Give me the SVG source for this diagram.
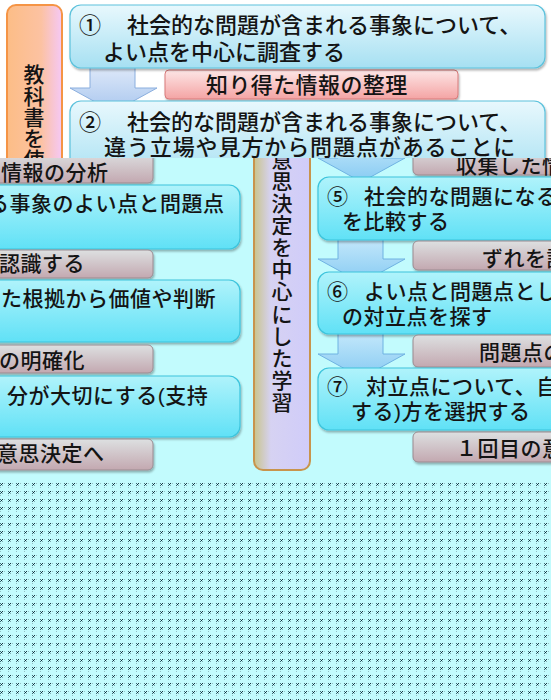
<svg xmlns="http://www.w3.org/2000/svg" width="551" height="700" viewBox="0 0 551 700">
<style>
text{font-family:"Liberation Sans","Noto Sans CJK JP",sans-serif;fill:#141414;font-weight:500}
.t22{font-size:22px}
.t21{font-size:21px;letter-spacing:0.5px}
.box1{fill:url(#gTop);stroke:#5cc2dc;stroke-width:1.2}
.box2{fill:url(#gCy);stroke:#3cc4dc;stroke-width:1.2}
.lab{fill:url(#gGray);stroke:#9a8a90;stroke-width:1}
.arr{fill:url(#gArr);stroke:#6fb2e2;stroke-width:1}
</style>
<defs>
<linearGradient id="gTop" x1="0" y1="0" x2="0" y2="1"><stop offset="0" stop-color="#e8f8fd"/><stop offset="1" stop-color="#a6e0f2"/></linearGradient>
<linearGradient id="gCy" x1="0" y1="0" x2="0" y2="1"><stop offset="0" stop-color="#b0f3fb"/><stop offset="1" stop-color="#60e1f6"/></linearGradient>
<linearGradient id="gGray" x1="0" y1="0" x2="0" y2="1"><stop offset="0" stop-color="#dde0e1"/><stop offset="1" stop-color="#c3a8b0"/></linearGradient>
<linearGradient id="gPink" x1="0" y1="0" x2="0" y2="1"><stop offset="0" stop-color="#fde6e6"/><stop offset="1" stop-color="#f4a4a4"/></linearGradient>
<linearGradient id="gOr" x1="0" y1="0" x2="1" y2="0"><stop offset="0" stop-color="#fcbd86"/><stop offset="0.62" stop-color="#fcc2a2"/><stop offset="1" stop-color="#f5c8f6"/></linearGradient>
<linearGradient id="gPur" x1="0" y1="0" x2="1" y2="0"><stop offset="0" stop-color="#c9c48a"/><stop offset="0.3" stop-color="#d6d2f2"/><stop offset="1" stop-color="#d0ccfa"/></linearGradient>
<linearGradient id="gArrTop" x1="0" y1="0" x2="0" y2="1"><stop offset="0" stop-color="#dfe9f9"/><stop offset="1" stop-color="#a8c6ee"/></linearGradient>
<linearGradient id="gArr" x1="0" y1="0" x2="0" y2="1"><stop offset="0" stop-color="#c4e8fb"/><stop offset="1" stop-color="#86caf2"/></linearGradient>
<filter id="sh" x="-5%" y="-10%" width="115%" height="130%"><feDropShadow dx="1" dy="2" stdDeviation="1.3" flood-color="#000" flood-opacity="0.3"/></filter>
<pattern id="dots" x="0" y="483" width="8" height="8" patternUnits="userSpaceOnUse">
<rect width="8" height="8" fill="#c2fbfd"/>
<rect x="0" y="0" width="1" height="1" fill="#3e6c76"/>
<rect x="2" y="0" width="1" height="1" fill="#1a3844"/>
<rect x="1" y="1" width="1" height="1" fill="#0c2434"/>
<rect x="0" y="2" width="1" height="1" fill="#3e6c76"/>
<rect x="2" y="2" width="1" height="1" fill="#7eaab0"/>
<rect x="4" y="0" width="1" height="1" fill="#94c0c4"/>
<rect x="0" y="4" width="1" height="1" fill="#94c0c4"/>
</pattern>
<clipPath id="lowClip"><rect x="0" y="158" width="551" height="542"/></clipPath>
</defs>

<rect x="0" y="0" width="551" height="700" fill="#ffffff"/>

<!-- upper picture -->
<g id="kyokasho">
<rect x="7" y="5" width="55" height="180" rx="9" fill="url(#gOr)" stroke="#f59445" stroke-width="2"/>
<text class="t22" style="font-size:21px" text-anchor="middle"><tspan x="34" y="82">教</tspan><tspan x="34" y="104">科</tspan><tspan x="34" y="125">書</tspan><tspan x="34" y="146">を</tspan><tspan x="34" y="167">使</tspan></text>
</g>
<g id="connectors-top">
<polygon class="arr" style="fill:url(#gArrTop);stroke:#8aaede" points="90,66 135,66 135,88 157,88 113.5,112 70,88 90,88"/>
</g>
<g id="label-seiri">
<rect x="165" y="70" width="293" height="29" rx="4" fill="url(#gPink)" stroke="#d87a7a" stroke-width="1" filter="url(#sh)"/>
<text class="t22" x="206" y="93" style="letter-spacing:0.4px">知り得た情報の整理</text>
</g>
<g id="step1">
<rect class="box1" x="70" y="5" width="475" height="63" rx="11" filter="url(#sh)"/>
<text class="t22" x="79" y="33">①　<tspan x="127">社会的な問題が含まれる事象について、</tspan></text>
<text class="t22" x="103" y="60">よい点を中心に調査する</text>
</g>
<g id="step2">
<rect class="box1" x="70" y="101" width="475" height="80" rx="11" filter="url(#sh)"/>
<text class="t22" x="79" y="130">②　<tspan x="127">社会的な問題が含まれる事象について、</tspan></text>
<text class="t22" x="104" y="155" style="letter-spacing:0.9px">違う立場や見方から問題点があることに</text>
</g>

<!-- lower picture -->
<g id="lower" clip-path="url(#lowClip)">
<rect x="0" y="158" width="551" height="542" fill="#c2fbfd"/>
<rect x="0" y="483" width="551" height="217" fill="url(#dots)"/>

<g id="left-label1"><rect class="lab" x="-20" y="152" width="173" height="31" rx="5" filter="url(#sh)"/><text class="t21" x="1" y="180">情報の分析</text></g>
<g id="left-box1"><rect class="box2" x="-20" y="185" width="260" height="64" rx="11" filter="url(#sh)"/><text class="t21" x="-12" y="211">る事象のよい点と問題点</text></g>
<g id="left-label2"><rect class="lab" x="-20" y="250" width="173" height="28" rx="5" filter="url(#sh)"/><text class="t21" x="-1" y="271">認識する</text></g>
<g id="left-box2"><rect class="box2" x="-20" y="280" width="260" height="62" rx="11" filter="url(#sh)"/><text class="t21" x="1" y="306">た根拠から価値や判断</text></g>
<g id="left-label3"><rect class="lab" x="-20" y="345" width="173" height="28" rx="5" filter="url(#sh)"/><text class="t21" x="-1" y="368">の明確化</text></g>
<g id="left-box3"><rect class="box2" x="-20" y="376" width="260" height="61" rx="11" filter="url(#sh)"/><text class="t21" x="7" y="403">分が大切にする(支持</text></g>
<g id="left-label4"><rect class="lab" x="-20" y="439" width="173" height="31" rx="5" filter="url(#sh)"/><text class="t21" x="-3" y="461">意思決定へ</text></g>

<g id="ishikettei">
<rect x="254" y="120" width="56" height="350" rx="9" fill="url(#gPur)" stroke="#c8944c" stroke-width="2"/>
<text class="t21" style="letter-spacing:0" text-anchor="middle"><tspan x="282" y="167">意</tspan><tspan x="282" y="189">思</tspan><tspan x="282" y="211">決</tspan><tspan x="282" y="233">定</tspan><tspan x="282" y="255">を</tspan><tspan x="282" y="277">中</tspan><tspan x="282" y="299">心</tspan><tspan x="282" y="322">に</tspan><tspan x="282" y="344">し</tspan><tspan x="282" y="366">た</tspan><tspan x="282" y="388">学</tspan><tspan x="282" y="410">習</tspan></text>
</g>

<g id="connectors-lower">
<polygon class="arr" points="338,140 383,140 383,158 405,158 361.5,182 318,158 338,158"/>
<polygon class="arr" points="338,238 383,238 383,259 405,259 361.5,283 318,259 338,259"/>
<polygon class="arr" points="338,332 383,332 383,354 405,354 361.5,378 318,354 338,354"/>
</g>

<g id="right-label1"><rect class="lab" x="413" y="148" width="160" height="27" rx="5" filter="url(#sh)"/><text class="t21" x="456" y="173">収集した情</text></g>
<g id="step5"><rect class="box2" x="318" y="177" width="260" height="63" rx="11" filter="url(#sh)"/>
<text class="t21" x="327" y="204">⑤ <tspan x="364">社会的な問題になる</tspan></text>
<text class="t21" x="342" y="229">を比較する</text></g>
<g id="right-label2"><rect class="lab" x="413" y="241" width="160" height="29" rx="5" filter="url(#sh)"/><text class="t21" x="482" y="266">ずれを認</text></g>
<g id="step6"><rect class="box2" x="318" y="272" width="260" height="62" rx="11" filter="url(#sh)"/>
<text class="t21" x="327" y="299">⑥ <tspan x="364">よい点と問題点とし</tspan></text>
<text class="t21" x="342" y="324">の対立点を探す</text></g>
<g id="right-label3"><rect class="lab" x="413" y="335" width="160" height="32" rx="5" filter="url(#sh)"/><text class="t21" x="479" y="360">問題点の</text></g>
<g id="step7"><rect class="box2" x="318" y="368" width="260" height="62" rx="11" filter="url(#sh)"/>
<text class="t21" x="327" y="394">⑦ <tspan x="366">対立点について、自</tspan></text>
<text class="t21" x="351" y="419">する)方を選択する</text></g>
<g id="right-label4"><rect class="lab" x="413" y="432" width="160" height="30" rx="5" filter="url(#sh)"/><text class="t21" x="456" y="456">１回目の意</text></g>
</g>
</svg>
